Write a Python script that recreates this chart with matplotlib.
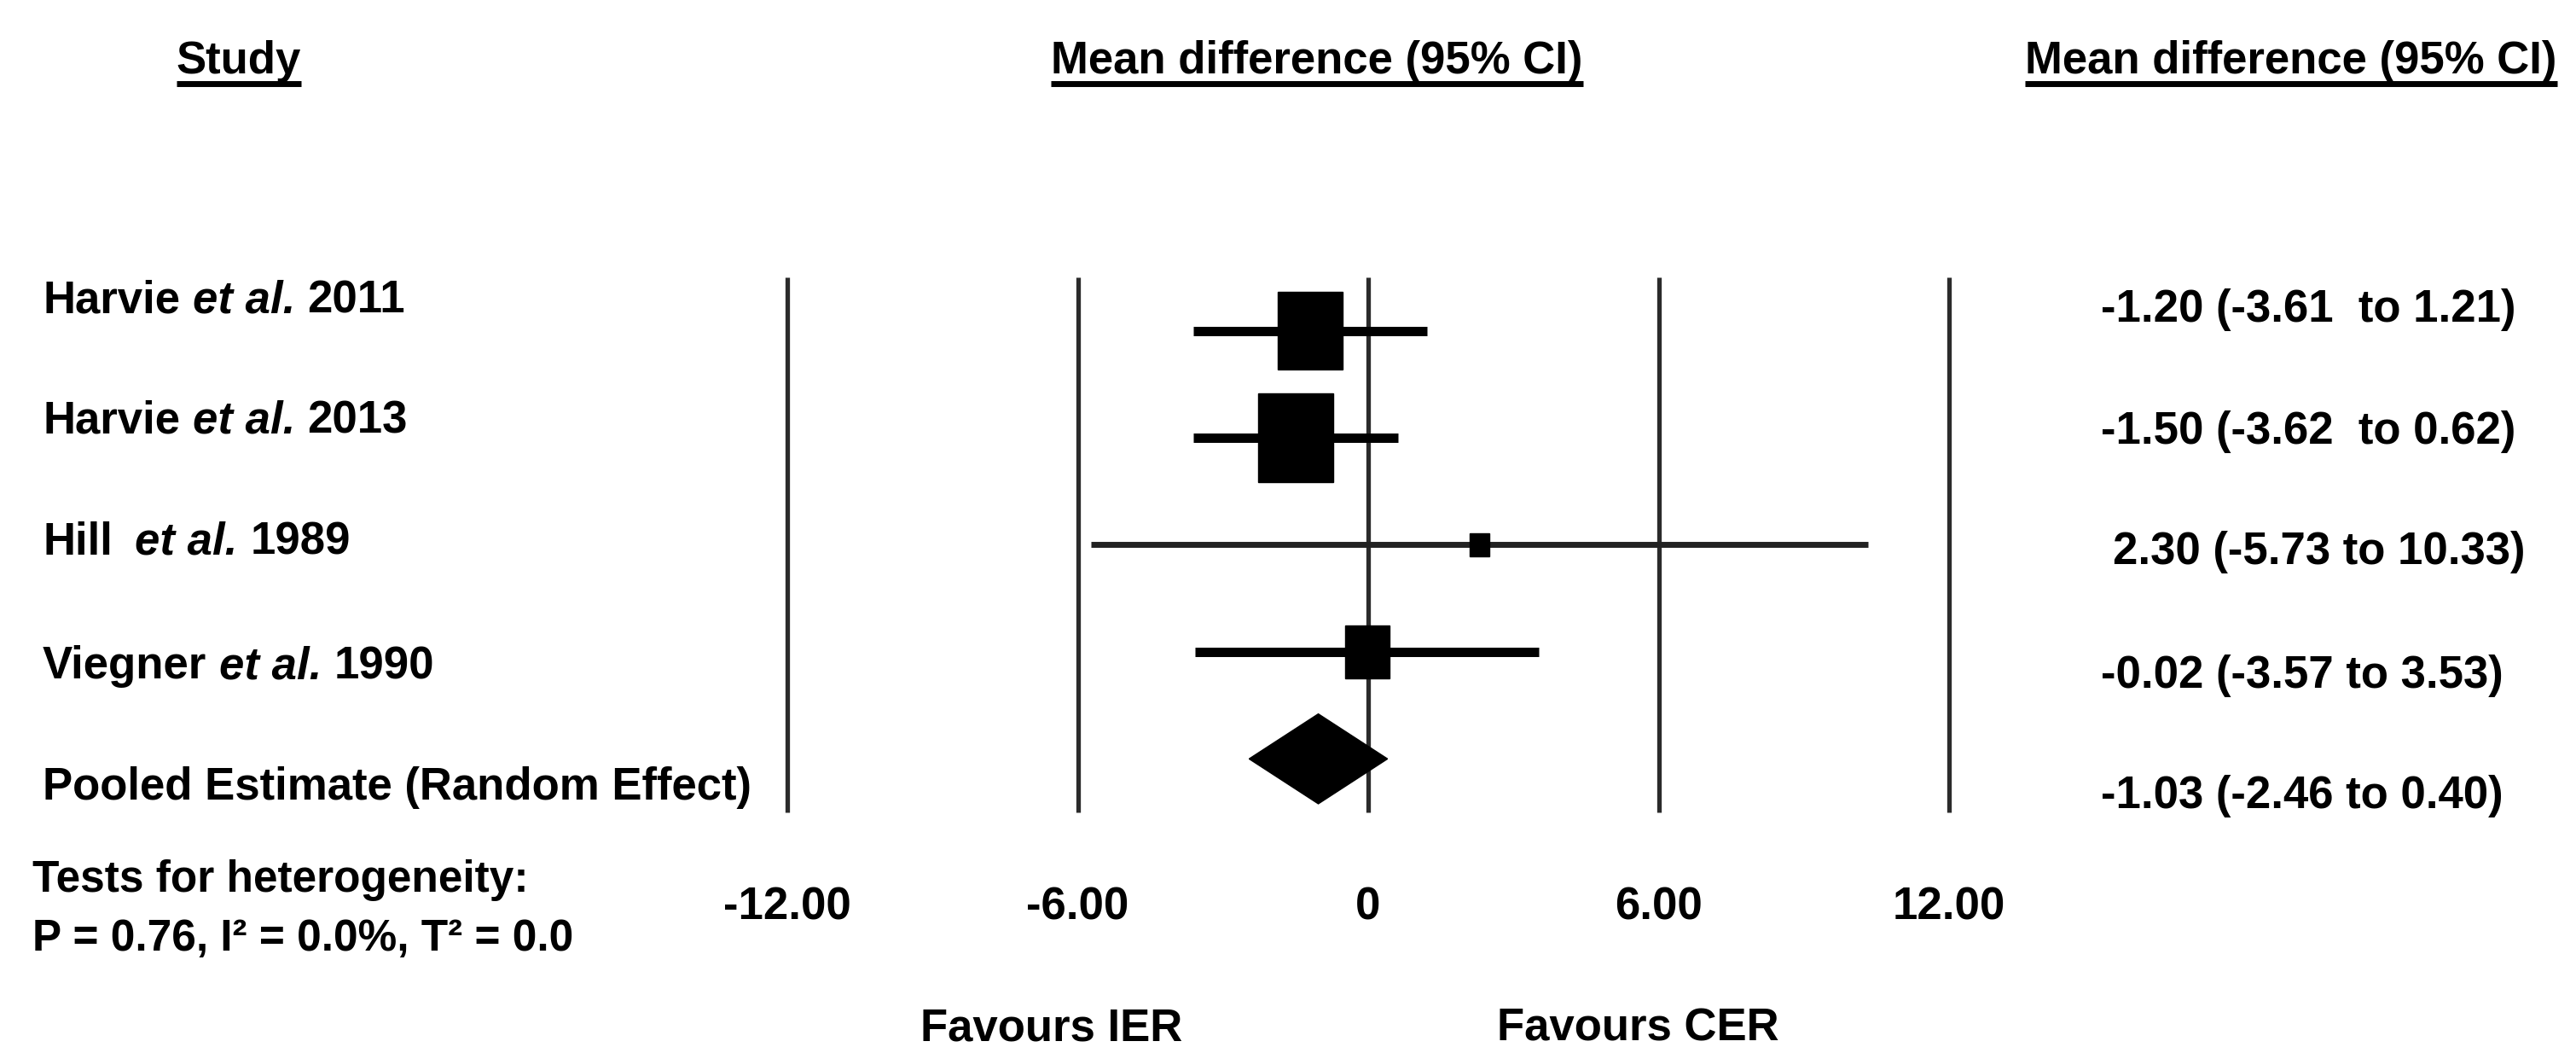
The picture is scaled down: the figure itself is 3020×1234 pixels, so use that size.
import numpy as np
import matplotlib.pyplot as plt
from matplotlib.patches import Rectangle, Polygon
from matplotlib.lines import Line2D

# DATA
authors = ["Harvie", "Harvie", "Hill", "Viegner"]
years = ["2011", "2013", "1989", "1990"]
mean_diff = [-1.20, -1.50, 2.30, -0.02]
ci_low = [-3.61, -3.62, -5.73, -3.57]
ci_high = [1.21, 0.62, 10.33, 3.53]
weights = [35.1, 45.5, 3.2, 16.2]   # % weight
pooled_label = "Pooled Estimate (Random Effect)"
pooled_mean = -1.03
pooled_low = -2.46
pooled_high = 0.40
ci_texts = ["-1.20 (-3.61  to 1.21)", "-1.50 (-3.62  to 0.62)",
            "2.30 (-5.73 to 10.33)", "-0.02 (-3.57 to 3.53)",
            "-1.03 (-2.46 to 0.40)"]
ticks = [-12, -6, 0, 6, 12]
tick_labels = ["-12.00", "-6.00", "0", "6.00", "12.00"]
heterogeneity = ["Tests for heterogeneity:", "P = 0.76, I\u00b2 = 0.0%, T\u00b2 = 0.0"]
favours = ["Favours IER", "Favours CER"]
#-------------------------------------------------------------------------------

plt.rcParams['font.family'] = ["Liberation Sans", "DejaVu Sans"]
plt.rcParams['font.weight'] = 'bold'
FS = 38

W, H = 3020, 1234
def fx(px):
    return px / W
def fy(py):
    return 1 - py / H

fig = plt.figure(figsize=(W / 100, H / 100), dpi=100, facecolor='white')
rend = fig.canvas.get_renderer()

# forest plot axes
ax = fig.add_axes([fx(923), fy(952), (2285 - 923) / W, (952 - 325) / H])
ax.set_xlim(-12, 12)
ax.set_ylim(4.5, -0.5)
for s in ax.spines.values():
    s.set_visible(False)
ax.set_yticks([])
ax.set_xticks(ticks, tick_labels)
ax.tick_params(axis='x', length=0, pad=62, labelsize=FS)
for lab in ax.get_xticklabels():
    lab.set_fontweight('bold')

ax.vlines(ticks, -0.5, 4.5, color='#2b2b2b', lw=3.8, clip_on=False, zorder=1)

rows = np.arange(len(mean_diff))
ci_lw = [7.9, 7.9, 5.0, 7.9]
ci_col = ['black', 'black', '#222222', 'black']
for i in rows:
    ax.hlines(i, ci_low[i], ci_high[i], color=ci_col[i], lw=ci_lw[i], zorder=2)
    bw = 0.228 * np.sqrt(weights[i])
    bh = bw * 0.54
    ax.add_patch(Rectangle((mean_diff[i] - bw / 2, i - bh / 2), bw, bh,
                           color='black', zorder=3))

yp = len(mean_diff)
ax.add_patch(Polygon([(pooled_low, yp), (pooled_mean, yp - 0.42),
                      (pooled_high, yp), (pooled_mean, yp + 0.42)],
                     closed=True, color='black', zorder=3))

# headers
headers = [("Study", 280), ("Mean difference (95% CI)", 1544),
           ("Mean difference (95% CI)", 2686)]
head_txt = []
for txt, x in headers:
    head_txt.append(fig.text(fx(x), fy(86), txt, ha='center', va='baseline',
                             fontsize=FS, fontweight='bold'))

# study labels: author, italic "et al.", year
space = 0.278 * FS * 100 / 72
label_base = [367, 507, 650, 795, 937]
for i in rows:
    x = 50
    parts = [(authors[i], 'normal'), ("et al.", 'italic'), (years[i], 'normal')]
    for j, (txt, style) in enumerate(parts):
        t = fig.text(fx(x), fy(label_base[i]), txt, ha='left', va='baseline',
                     fontsize=FS, fontweight='bold', fontstyle=style)
        gap = space * (1.8 if (authors[i] == "Hill" and j == 0) else 1.0)
        x = t.get_window_extent(rend).x1 + gap
fig.text(fx(50), fy(label_base[4]), pooled_label, ha='left', va='baseline',
         fontsize=FS, fontweight='bold')

# right column
ci_base = [377, 520, 661, 806, 947]
ci_x = [2463, 2463, 2477, 2463, 2463]
for i, t in enumerate(ci_texts):
    fig.text(fx(ci_x[i]), fy(ci_base[i]), t, ha='left', va='baseline',
             fontsize=FS, fontweight='bold')

# footnotes
fig.text(fx(38), fy(1045), heterogeneity[0], ha='left', va='baseline',
         fontsize=FS - 1, fontweight='bold')
fig.text(fx(38), fy(1114), heterogeneity[1], ha='left', va='baseline',
         fontsize=FS - 1, fontweight='bold')
for t, x in zip(favours, [1233, 1920]):
    fig.text(fx(x), fy(1219), t, ha='center', va='baseline',
             fontsize=FS, fontweight='bold')

# underline headers
fig.canvas.draw()
for t in head_txt:
    bb = t.get_window_extent(rend)
    fig.add_artist(Line2D([bb.x0 / W, bb.x1 / W], [fy(97.5), fy(97.5)],
                          transform=fig.transFigure, lw=5, color='black',
                          solid_capstyle='butt'))

fig.savefig("out.png", dpi=100, facecolor='white')
